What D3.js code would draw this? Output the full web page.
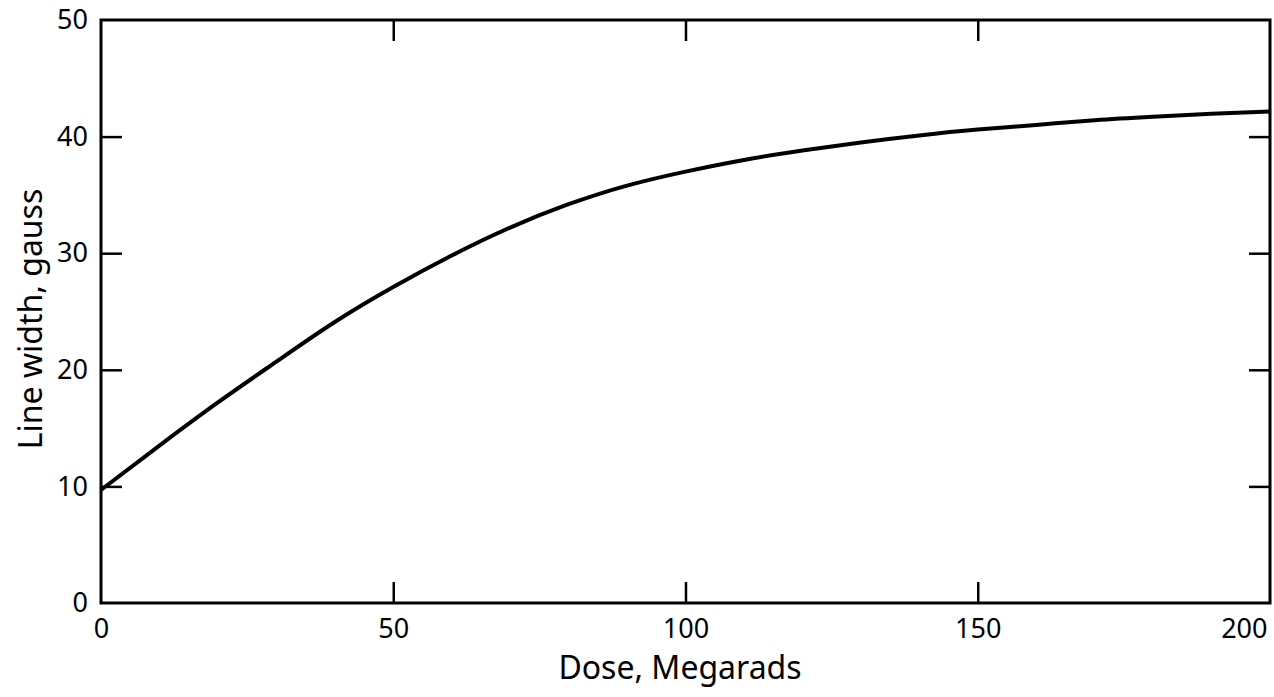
<html>
<head>
<style>
    body { margin: 0; background: #fff; }
    .tick text { font-family: "Noto Sans", sans-serif; font-size: 27px; fill: #000; }
    .tick line { stroke: #000; stroke-width: 2.5px; }
    .axisTitle { font-family: "Noto Sans", sans-serif; font-size: 32px; fill: #000; }
</style>
</head>
<body>
<svg id="chart" width="1274" height="697"></svg>
<script src="https://d3js.org/d3.v7.min.js"></script>
<script>
    // dose (Megarads) vs line width (gauss)
    let dose = [0, 10, 20, 30, 40, 50, 60, 70, 80, 90, 100, 110, 120, 130, 140, 150, 160, 170, 180, 190, 200]
    let width = [9.7, 13.5, 17.2, 20.7, 24.1, 27.1, 29.8, 32.2, 34.2, 35.8, 37.0, 38.0, 38.8, 39.5, 40.1, 40.6, 41.0, 41.4, 41.7, 41.95, 42.15]
    let xTicks = [0, 50, 100, 150, 200]
    let yTicks = [0, 10, 20, 30, 40, 50]

    let data = dose.map((d, i) => ({dose: d, width: width[i]}))

    let svg = d3.select("#chart")
    let plotLeft = 101, plotTop = 20, plotRight = 1270, plotBottom = 603
    let tickLen = 21

    let xScale = d3.scaleLinear().domain([0, 200]).range([plotLeft, plotRight])
    let yScale = d3.scaleLinear().domain([0, 50]).range([plotBottom, plotTop])

    // bottom axis with labels, ticks pointing inward
    svg.append("g")
        .attr("transform", "translate(0," + plotBottom + ")")
        .call(d3.axisBottom(xScale).tickValues(xTicks).tickSize(-tickLen).tickPadding(16))
        .call(g => g.select(".domain").remove())
        .call(g => g.selectAll("line").filter(d => d == 0 || d == 200).remove())
        .selectAll("text")
        .attr("text-anchor", d => d == 200 ? "end" : "middle")
        .attr("dx", d => d == 200 ? -3 : 0)
    svg.append("g")
        .attr("transform", "translate(0," + plotTop + ")")
        .call(d3.axisTop(xScale).tickValues(xTicks.slice(1, -1)).tickSize(-tickLen).tickFormat(""))
        .call(g => g.select(".domain").remove())

    svg.append("g")
        .attr("transform", "translate(" + plotLeft + ",0)")
        .call(d3.axisLeft(yScale).tickValues(yTicks).tickSize(-tickLen).tickPadding(13))
        .call(g => g.select(".domain").remove())
        .selectAll("line").filter(d => d == 0 || d == 50).remove()
    svg.append("g")
        .attr("transform", "translate(" + plotRight + ",0)")
        .call(d3.axisRight(yScale).tickValues(yTicks.slice(1, -1)).tickSize(-tickLen).tickFormat(""))
        .call(g => g.select(".domain").remove())

    // frame
    svg.append("rect")
        .attr("x", plotLeft).attr("y", plotTop)
        .attr("width", plotRight - plotLeft).attr("height", plotBottom - plotTop)
        .attr("fill", "none").attr("stroke", "#000").attr("stroke-width", 3)

    let line = d3.line().curve(d3.curveNatural)
        .x(d => xScale(d.dose))
        .y(d => yScale(d.width))
    svg.append("path")
        .datum(data)
        .attr("d", line)
        .attr("fill", "none")
        .attr("stroke", "#000")
        .attr("stroke-width", 4)

    svg.append("text")
        .attr("class", "axisTitle")
        .attr("x", 680)
        .attr("y", 679)
        .attr("text-anchor", "middle")
        .text("Dose, Megarads")

    svg.append("text")
        .attr("class", "axisTitle")
        .attr("transform", "translate(42,319) rotate(-90)")
        .attr("text-anchor", "middle")
        .text("Line width, gauss")
</script>
</body>
</html>
